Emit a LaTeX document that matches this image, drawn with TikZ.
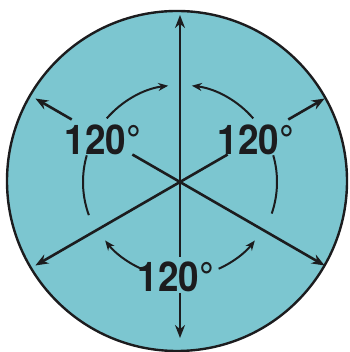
\documentclass[tikz,border=0pt]{standalone}
\usepackage{fontspec}
\setmainfont{TeX Gyre Heros}
\usetikzlibrary{arrows.meta,calc}
\definecolor{tealfill}{RGB}{124,198,208}
\definecolor{ink}{RGB}{28,28,30}
\tikzset{
  ray/.style={ink, line width=2.6pt, -{Stealth[length=13pt,width=10pt]}},
  rayplain/.style={ink, line width=2.6pt},
  arcline/.style={ink, line width=2pt},
  arcarrow/.style={ink, line width=2pt, -{Stealth[length=10pt,width=8pt]}},
  lbl/.style={font=\fontsize{41}{41}\bfseries\selectfont, xscale=0.9, inner sep=0pt, text=ink}
}
\begin{document}
\begin{tikzpicture}[x=1pt,y=1pt]
\useasboundingbox (0,0) rectangle (349,352);
\fill[white] (0,0) rectangle (349,352);
% disc
\coordinate (cc) at (177,171);
\draw[ink, fill=tealfill, line width=2.4pt] (cc) circle (170);
% centre of rays
\coordinate (o) at (180,170);
% ray end points
\coordinate (tT) at ($(o)+(90:167)$);
\coordinate (tB) at ($(o)+(270:156)$);
\coordinate (tUL) at ($(o)+(150:167)$);
\coordinate (tUR) at ($(o)+(30:167)$);
\coordinate (tLL) at ($(o)+(210:167)$);
\coordinate (tLR) at ($(o)+(330:167)$);
% gap ends
\coordinate (gUL1) at ($(o)+(150:55)$);
\coordinate (gUL2) at ($(o)+(150:125)$);
\coordinate (gUR1) at ($(o)+(30:55)$);
\coordinate (gUR2) at ($(o)+(30:125)$);
\coordinate (gB1) at ($(o)+(270:75)$);
\coordinate (gB2) at ($(o)+(270:111)$);
% rays
\draw[ray] (o) -- (tT);
\draw[ray] (o) -- (tLL);
\draw[ray] (o) -- (tLR);
\draw[rayplain] (o) -- (gUL1);
\draw[ray] (gUL2) -- (tUL);
\draw[rayplain] (o) -- (gUR1);
\draw[ray] (gUR2) -- (tUR);
\draw[rayplain] (o) -- (gB1);
\draw[ray] (gB2) -- (tB);
% arcs (radius 97 about o)
\draw[arcarrow] ($(o)+(139:97)$) arc[start angle=139, end angle=97, radius=97];
\draw[arcline] ($(o)+(164:97)$) arc[start angle=164, end angle=200, radius=97];
\draw[arcarrow] ($(o)+(246:95)$) arc[start angle=246, end angle=218, radius=95];
\draw[arcarrow] ($(o)+(294:95)$) arc[start angle=294, end angle=322, radius=95];
\draw[arcline] ($(o)+(16:97)$) arc[start angle=16, end angle=-19, radius=97];
\draw[arcarrow] ($(o)+(41:97)$) arc[start angle=41, end angle=83, radius=97];
% labels
\node[lbl] (l1) at (103,212) {120°};
\node[lbl] (l2) at (256,212) {120°};
\node[lbl] (l3) at (176,75) {120°};
\end{tikzpicture}
\end{document}
